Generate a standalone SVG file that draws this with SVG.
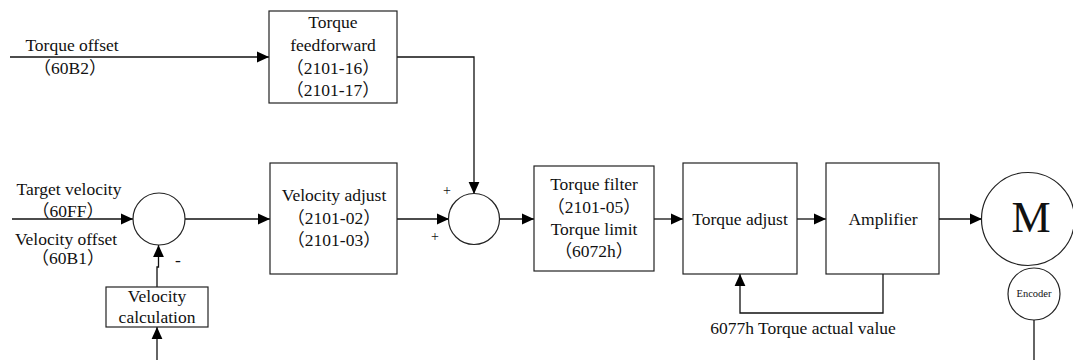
<svg xmlns="http://www.w3.org/2000/svg" width="1073" height="360" viewBox="0 0 1073 360">
<style>
text{font-family:"Liberation Serif","Noto Sans CJK SC",serif;font-size:17.5px;fill:#111}
.c{text-anchor:middle}
.box{fill:#fff;stroke:#222;stroke-width:1.2}
.ln{fill:none;stroke:#111;stroke-width:1.3}
</style>
<defs>
<marker id="ar" markerUnits="userSpaceOnUse" markerWidth="12" markerHeight="12" viewBox="0 0 10 10" refX="10" refY="5" orient="auto">
<path d="M0,0.5 L10,5 L0,9.5 Z" fill="#000"/>
</marker>
</defs>
<rect width="1073" height="360" fill="#fff"/>
<g id="connectors">
<path class="ln" d="M10,57 H269" marker-end="url(#ar)"/>
<path class="ln" d="M397,57 H474 V194" marker-end="url(#ar)"/>
<path class="ln" d="M12,219 H133" marker-end="url(#ar)"/>
<path class="ln" d="M185,219 H270" marker-end="url(#ar)"/>
<path class="ln" d="M157,287 V267 H158.5 V245" marker-end="url(#ar)"/>
<path class="ln" d="M157,360 V327" marker-end="url(#ar)"/>
<path class="ln" d="M397,219 H449" marker-end="url(#ar)"/>
<path class="ln" d="M499,219 H534" marker-end="url(#ar)"/>
<path class="ln" d="M654,219 H683" marker-end="url(#ar)"/>
<path class="ln" d="M797,219 H826" marker-end="url(#ar)"/>
<path class="ln" d="M939,219 H982" marker-end="url(#ar)"/>
<path class="ln" d="M883,274 V313 H740 V274" marker-end="url(#ar)"/>
<path class="ln" d="M1034,320 V360"/>
</g>
<g id="labels">
<text x="72" y="51" class="c">Torque offset</text>
<text x="70" y="74" class="c">（60B2）</text>
<text x="69" y="195" class="c">Target velocity</text>
<text x="68" y="217" class="c">（60FF）</text>
<text x="66" y="245" class="c">Velocity offset</text>
<text x="68" y="264" class="c">（60B1）</text>
<text x="178" y="266" class="c">-</text>
<text x="447" y="195" class="c" style="font-size:14px">+</text>
<text x="435" y="241" class="c" style="font-size:14px">+</text>
<text x="803" y="334" class="c">6077h Torque actual value</text>
</g>
<g id="torque-feedforward">
<rect class="box" x="269" y="11" width="128" height="92"/>
<text x="333" y="28" class="c">Torque</text>
<text x="333" y="51" class="c">feedforward</text>
<text x="333" y="74" class="c">（2101-16）</text>
<text x="333" y="96" class="c">（2101-17）</text>
</g>
<g id="sum1">
<circle class="box" cx="159" cy="219" r="26"/>
</g>
<g id="velocity-calculation">
<rect class="box" x="106" y="287" width="102" height="40"/>
<text x="157" y="302" class="c">Velocity</text>
<text x="157" y="323" class="c">calculation</text>
</g>
<g id="velocity-adjust">
<rect class="box" x="270" y="163" width="127" height="111"/>
<text x="334" y="201" class="c">Velocity adjust</text>
<text x="334" y="224" class="c">（2101-02）</text>
<text x="334" y="246" class="c">（2101-03）</text>
</g>
<g id="sum2">
<circle class="box" cx="474" cy="219" r="25.5"/>
</g>
<g id="torque-filter">
<rect class="box" x="534" y="166" width="120" height="105"/>
<text x="594" y="190" class="c">Torque filter</text>
<text x="594" y="213" class="c">（2101-05）</text>
<text x="594" y="235" class="c">Torque limit</text>
<text x="594" y="257" class="c">（6072h）</text>
</g>
<g id="torque-adjust">
<rect class="box" x="683" y="163" width="114" height="111"/>
<text x="740" y="225" class="c">Torque adjust</text>
</g>
<g id="amplifier">
<rect class="box" x="826" y="163" width="113" height="111"/>
<text x="883" y="225" class="c">Amplifier</text>
</g>
<g id="motor">
<circle class="box" cx="1028" cy="219" r="46.5"/>
<text x="1031" y="232" class="c" style="font-size:44px">M</text>
</g>
<g id="encoder">
<circle class="box" cx="1034" cy="294" r="26"/>
<text x="1034" y="297" class="c" style="font-size:10.5px">Encoder</text>
</g>
</svg>
